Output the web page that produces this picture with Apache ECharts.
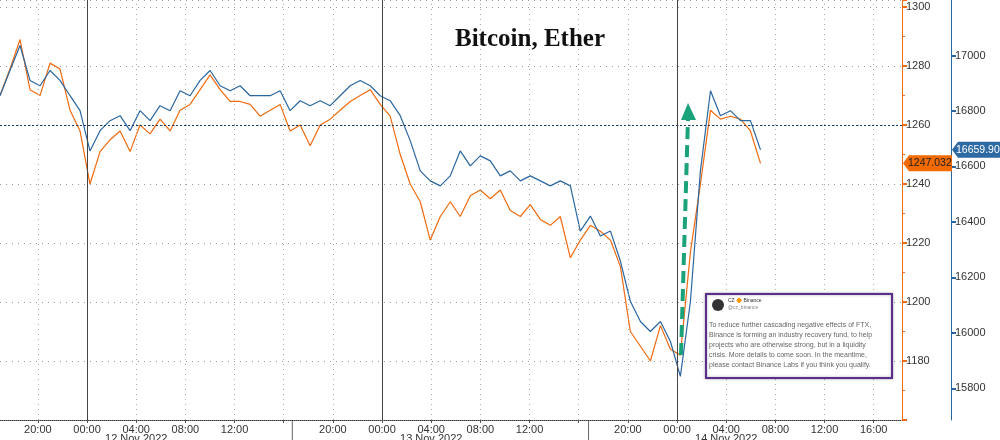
<!DOCTYPE html>
<html><head><meta charset="utf-8">
<script src="https://cdn.jsdelivr.net/npm/echarts@6/dist/echarts.min.js"></script>
<style>html,body{margin:0;padding:0;background:#fff}#c{width:1000px;height:440px}</style>
</head><body><div id="c"></div>
<script>
// hours relative to 00:00 12 Nov 2022
const hours = [-7.08,-6.27,-5.45,-4.64,-3.82,-3.01,-2.2,-1.38,-0.57,0.24,1.06,1.87,2.69,3.5,4.31,5.13,5.94,6.76,7.57,8.38,9.2,10.01,10.83,11.64,12.45,13.27,14.08,14.9,15.71,16.52,17.34,18.15,18.97,19.78,20.59,21.41,22.22,23.04,23.85,24.66,25.48,26.29,27.11,27.92,28.74,29.55,30.36,31.18,31.99,32.81,33.62,34.43,35.25,36.06,36.88,37.69,38.5,39.32,40.13,40.95,41.76,42.58,43.39,44.2,45.02,45.83,46.65,47.46,48.27,49.09,49.9,50.72,51.53,52.34,53.16,53.97,54.79];
const ether = [1270,1279,1289,1272,1270,1281,1279,1265,1258,1240,1251,1255,1258,1251,1260,1257,1262,1258,1265,1267,1272,1277,1272,1268,1268,1267,1263,1265,1267,1258,1260,1253,1260,1262,1265,1268,1270,1272,1267,1263,1250,1240,1234,1221,1229,1234,1229,1236,1238,1235,1238,1231,1229,1233,1228,1226,1229,1215,1221,1226,1224,1221,1212,1190,1185,1180,1192,1184,1182,1217,1240,1265,1262,1263,1262,1258,1247.032];
const bitcoin = [16855,16946,17036,16910,16891,16946,16910,16855,16801,16656,16729,16765,16783,16729,16801,16765,16819,16801,16873,16855,16910,16946,16891,16873,16891,16855,16855,16855,16873,16801,16837,16819,16837,16819,16855,16891,16910,16891,16855,16837,16783,16693,16584,16548,16530,16566,16656,16602,16638,16620,16566,16584,16548,16566,16548,16530,16548,16530,16367,16421,16349,16367,16259,16114,16041,16005,16041,15969,15843,16114,16584,16873,16783,16801,16765,16765,16659.90];
const btcTicks = [15800,16000,16200,16400,16600,16800,17000];
const hourTicks = [-4,0,4,8,12,16,20,24,28,32,36,40,44,48,52,56,60,64];
const hourLabels = ['20:00','00:00','04:00','08:00','12:00','','20:00','00:00','04:00','08:00','12:00','','20:00','00:00','04:00','08:00','12:00','16:00'];
const dayLabels = ['12 Nov 2022','13 Nov 2022','14 Nov 2022'];
const dayCenters = [4,28,52];
const tweetHead = 'CZ 🔶 Binance';
const tweetHandle = '@cz_binance';
const tweetText = 'To reduce further cascading negative effects of FTX,\nBinance is forming an industry recovery fund, to help\nprojects who are otherwise strong, but in a liquidity\ncrisis. More details to come soon. In the meantime,\nplease contact Binance Labs if you think you qualify.';

const ORANGE='#f26a0f', BLUE='#2a66a0';
const chart = echarts.init(document.getElementById('c'));
const font = 'Liberation Sans';
const vLines = hourTicks.map(h=>({xAxis:h,lineStyle:{color:(h%24===0)?'#444':'#aaa',type:(h%24===0)?'solid':[1,4],width:1}}));
chart.setOption({
  animation:false,
  grid:{left:0,right:98,top:0,bottom:20},
  title:{text:'Bitcoin, Ether',left:450,top:22,textStyle:{fontFamily:'Liberation Serif',fontWeight:'bold',fontSize:25,color:'#111'}},
  xAxis:{type:'value',min:-7.08,max:66.3,
    axisLine:{show:true,onZero:false,lineStyle:{color:'#333',type:'dotted'}},
    axisTick:{show:true,length:3,customValues:hourTicks,lineStyle:{color:'#555'}},
    splitLine:{show:false},
    axisLabel:{fontFamily:font,fontSize:11,color:'#333',margin:4,customValues:hourTicks,
      formatter:v=>hourLabels[hourTicks.indexOf(v)]||''}},
  yAxis:[
    {type:'value',position:'right',min:1160,max:1302.4,interval:20,
      axisLine:{show:true,onZero:false,lineStyle:{color:ORANGE}},
      axisTick:{show:true,length:5,lineStyle:{color:ORANGE,width:2}},
      minorTick:{show:true,splitNumber:2,length:3,lineStyle:{color:ORANGE}},
      axisLabel:{fontFamily:font,fontSize:11,color:'#333',margin:4,showMaxLabel:false,showMinLabel:false,formatter:v=>String(v)},
      splitLine:{show:true,lineStyle:{color:'#999',type:[1,5]}}},
    {type:'value',position:'right',offset:49,min:15686,max:17200,
      axisLine:{show:true,onZero:false,lineStyle:{color:BLUE}},
      axisTick:{show:true,length:5,customValues:btcTicks,lineStyle:{color:BLUE,width:2}},
      axisLabel:{fontFamily:font,fontSize:11,color:'#333',margin:4,customValues:btcTicks,formatter:v=>String(v)},
      splitLine:{show:false}}
  ],
  series:[
    {type:'line',yAxisIndex:0,symbol:'none',data:hours.map((h,i)=>[h,ether[i]]),lineStyle:{color:ORANGE,width:1.2},z:3,
      markLine:{symbol:'none',silent:true,label:{show:false},data:[
        {yAxis:1260,lineStyle:{color:'#1d3f66',type:[2,2],width:1.2}}].concat(vLines)}},
    {type:'line',yAxisIndex:1,symbol:'none',data:hours.map((h,i)=>[h,bitcoin[i]]),lineStyle:{color:BLUE,width:1.2},z:4}
  ]
});
const gOrangeY = chart.convertToPixel({yAxisIndex:0},ether[ether.length-1]);
const gBlueY = chart.convertToPixel({yAxisIndex:1},bitcoin[bitcoin.length-1]);
const graphics = [];
graphics.push({type:'polygon',shape:{points:[[903,gOrangeY],[909,gOrangeY-8],[952,gOrangeY-8],[952,gOrangeY+8],[909,gOrangeY+8]]},style:{fill:'#f26a00'},z:10});
graphics.push({type:'text',x:908,y:gOrangeY,style:{text:ether[ether.length-1].toFixed(3),fill:'#222',font:'10.5px '+font,textVerticalAlign:'middle'},z:11});
graphics.push({type:'polygon',shape:{points:[[952,gBlueY],[958,gBlueY-8],[1000,gBlueY-8],[1000,gBlueY+8],[958,gBlueY+8]]},style:{fill:'#2d6aa3'},z:10});
graphics.push({type:'text',x:956,y:gBlueY,style:{text:bitcoin[bitcoin.length-1].toFixed(2),fill:'#fff',font:'10.5px '+font,textVerticalAlign:'middle'},z:11});
dayLabels.forEach((t,i)=>{const x=chart.convertToPixel({xAxisIndex:0},dayCenters[i]);
  graphics.push({type:'text',x:x,y:433,style:{text:t,fill:'#333',font:'11px '+font,textAlign:'center'}});});
[16.7,40.8].forEach(h=>{const x=chart.convertToPixel({xAxisIndex:0},h);
  graphics.push({type:'line',shape:{x1:x,y1:420,x2:x,y2:440},style:{stroke:'#666',lineWidth:1}});});
graphics.push({type:'line',shape:{x1:681,y1:355,x2:688,y2:118},style:{stroke:'#1aa37a',lineWidth:4,lineDash:[12,6]},z:12});
graphics.push({type:'polygon',shape:{points:[[688,103],[681,120],[696,120]]},style:{fill:'#1aa37a'},z:12});
graphics.push({type:'rect',shape:{x:706,y:294,width:186,height:84},style:{fill:'#fff',stroke:'#5b2d8e',lineWidth:2,shadowBlur:3,shadowColor:'rgba(0,0,0,0.3)'},z:20});
graphics.push({type:'circle',shape:{cx:718,cy:305,r:6},style:{fill:'#333'},z:21});
graphics.push({type:'text',x:728,y:298,style:{text:tweetHead,fill:'#333',font:'5px '+font},z:21});
graphics.push({type:'text',x:728,y:305,style:{text:tweetHandle,fill:'#888',font:'5px '+font},z:21});
graphics.push({type:'text',x:709,y:320,style:{text:tweetText,fill:'#666',font:'7px '+font,lineHeight:10},z:21});
chart.setOption({graphic:graphics});
</script></body></html>
